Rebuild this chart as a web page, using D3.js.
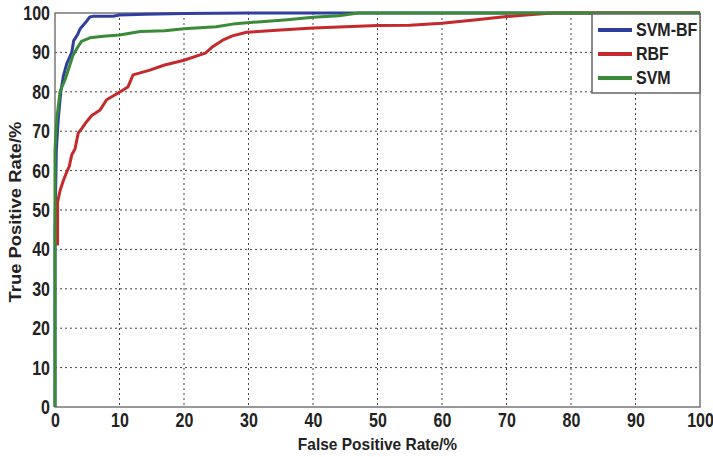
<!DOCTYPE html>
<html>
<head>
<meta charset="utf-8">
<script src="https://cdn.jsdelivr.net/npm/d3@7"></script>
<style>
  body { margin: 0; background: #fff; }
  text { font-family: 'Liberation Sans', Arial, sans-serif; font-weight: bold; fill: #222; }
</style>
</head>
<body>
<svg id="roc" width="713" height="457"></svg>
<script>
// ===== data (FPR %, TPR %) =====
var svmBf = [[0, 0], [0, 45], [0.2, 65], [0.5, 73], [0.9, 80], [1.3, 84], [1.8, 87], [2.6, 90], [2.9, 93],
  [3.5, 94.5], [3.9, 96], [4.7, 97.5], [5.4, 99], [6, 99.2], [9, 99.2], [10, 99.5], [14, 99.7], [20, 99.9],
  [30, 100], [100, 100]]

var rbf = [[0.4, 41], [0.4, 52], [0.8, 55], [1.3, 57.5], [1.8, 59.6], [2.2, 61], [2.6, 64], [3.1, 65.5],
  [3.6, 69.5], [4.2, 70.8], [4.7, 72], [5.7, 74], [7, 75.4], [8, 78], [9.8, 79.7], [11.3, 81.2], [12.1, 84.3],
  [14.7, 85.5], [17, 86.8], [20, 88], [23.3, 89.8], [24.5, 91.5], [26, 93.1], [27.5, 94.2], [29.7, 95.1],
  [35, 95.7], [40, 96.2], [50, 96.8], [55, 96.9], [60, 97.4], [65, 98.2], [70, 99.1], [74, 99.6],
  [77.2, 100], [100, 100]]

var svm = [[0, 0], [0, 65], [0.25, 72.8], [0.8, 80.2], [1.55, 83], [2.3, 86.8], [2.8, 89.3], [3.4, 91],
  [4.1, 92.8], [5.4, 93.7], [7.5, 94.1], [10, 94.4], [13.2, 95.3], [17, 95.5], [20, 96], [25, 96.5],
  [28, 97.3], [32, 97.8], [36, 98.3], [40, 98.9], [44, 99.3], [47, 100], [100, 100]]

var ticks = [0, 10, 20, 30, 40, 50, 60, 70, 80, 90, 100]
var seriesNames = ['SVM-BF', 'RBF', 'SVM']
var seriesColors = ['#2f3f9f', '#c42a2b', '#3b8a38']

// ===== layout =====
var svg = d3.select('#roc')
var mLeft = 55
var mRight = 700
var mTop = 13
var mBottom = 407
var stretch = 1.25 // the figure's text looks tall and narrow

var x = d3.scaleLinear().domain([0, 100]).range([mLeft, mRight])
var y = d3.scaleLinear().domain([0, 100]).range([mBottom, mTop])

// grid (dotted)
var grid = svg.append('g')
grid.selectAll('line.gx')
  .data(ticks.slice(1, -1))
  .enter().append('line')
  .attr('x1', d => x(d)).attr('x2', d => x(d))
  .attr('y1', mTop).attr('y2', mBottom)
  .attr('stroke', '#444').attr('stroke-width', 1).attr('stroke-dasharray', '2,3')
grid.selectAll('line.gy')
  .data(ticks.slice(1, -1))
  .enter().append('line')
  .attr('y1', d => y(d)).attr('y2', d => y(d))
  .attr('x1', mLeft).attr('x2', mRight)
  .attr('stroke', '#444').attr('stroke-width', 1).attr('stroke-dasharray', '2,3')

// frame
svg.append('rect')
  .attr('x', mLeft).attr('y', mTop)
  .attr('width', mRight - mLeft).attr('height', mBottom - mTop)
  .attr('fill', 'none').attr('stroke', '#777').attr('stroke-width', 1.5)

// axes (labels only, MATLAB style)
var xAxis = d3.axisBottom(x).tickValues(ticks).tickSize(0).tickPadding(4.5)
svg.append('g')
  .attr('transform', 'translate(0,' + mBottom + ')')
  .call(xAxis)
  .call(g => g.select('.domain').remove())
  .selectAll('text')
  .attr('font-size', 16).attr('font-family', null).attr('fill', '#222')
  .attr('transform', 'scale(1,' + stretch + ')')

var yAxis = d3.axisLeft(y).tickValues(ticks).tickSize(0).tickPadding(5)
svg.append('g')
  .attr('transform', 'translate(' + mLeft + ',0)')
  .call(yAxis)
  .call(g => g.select('.domain').remove())
  .selectAll('text')
  .attr('font-size', 16).attr('font-family', null).attr('fill', '#222')
  .attr('transform', 'scale(1,' + stretch + ')')

// axis titles
svg.append('text')
  .attr('transform', 'translate(' + (mLeft + mRight) / 2 + ',450) scale(1,1.1)')
  .attr('text-anchor', 'middle').attr('font-size', 15.5)
  .text('False Positive Rate/%')
svg.append('text')
  .attr('transform', 'translate(21,212) rotate(-90) scale(1.15,1)')
  .attr('text-anchor', 'middle').attr('font-size', 16)
  .text('True Positive Rate/%')

// curves
var line = d3.line().x(d => x(d[0])).y(d => y(d[1]))
var allSeries = [svmBf, rbf, svm]
allSeries.forEach(function (s, i) {
  svg.append('path')
    .datum(s)
    .attr('d', line)
    .attr('fill', 'none')
    .attr('stroke', seriesColors[i])
    .attr('stroke-width', 3)
    .attr('stroke-linejoin', 'round')
})

// legend
var legend = svg.append('g')
legend.append('rect')
  .attr('x', 592).attr('y', 14).attr('width', 108).attr('height', 79)
  .attr('fill', '#fff').attr('stroke', '#666').attr('stroke-width', 1.5)
seriesNames.forEach(function (name, i) {
  var ly = 30 + i * 24
  legend.append('line')
    .attr('x1', 598).attr('x2', 632).attr('y1', ly).attr('y2', ly)
    .attr('stroke', seriesColors[i]).attr('stroke-width', 4)
  legend.append('text')
    .attr('transform', 'translate(636,' + (ly + 6) + ') scale(1,1.1)')
    .attr('font-size', 16)
    .text(name)
})
</script>
</body>
</html>
